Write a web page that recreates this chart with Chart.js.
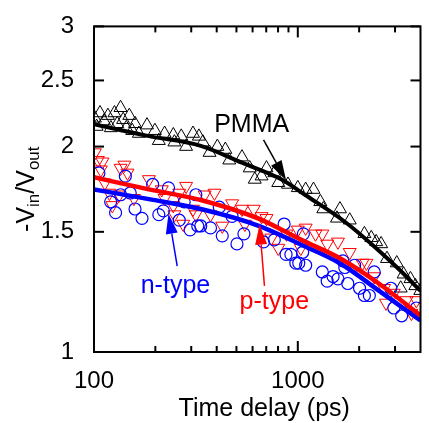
<!DOCTYPE html>
<html><head><meta charset="utf-8">
<script src="https://cdn.jsdelivr.net/npm/chart.js@4/dist/chart.umd.min.js"></script>
<style>html,body{margin:0;padding:0;background:#fff}#wrap{width:429px;height:423px}</style>
</head><body><div id="wrap"><canvas id="c" width="429" height="423"></canvas></div>
<script>
// ---- data (time delay in ps, ratio -Vin/Vout) ----
const pmmaTime  = [101,103,107,112,117,121,126,130,135,139,144,149,154,159,166,182,199,208,222,245,248,268,283,306,327,342,369,403,441,461,532,581,615,664,702,767,802,895,1000,1093,1194,1290,1334,1557,1610,1798,2122,2294,2424,2563,2739,3059,3198,3306,3572,3775,3990];
const pmmaRatio = [2.20,2.14,2.24,2.18,2.22,2.13,2.24,2.16,2.28,2.19,2.13,2.22,2.11,2.16,2.09,2.15,2.11,2.04,2.09,2.08,2.03,2.07,2.00,2.09,2.07,2.03,1.96,2.00,1.98,1.91,1.93,1.86,1.79,1.81,1.86,1.83,1.77,1.76,1.74,1.73,1.73,1.66,1.62,1.57,1.62,1.56,1.49,1.47,1.45,1.44,1.37,1.35,1.24,1.30,1.28,1.25,1.23];

const pTime  = [101,104.5,108,110,113,119,123,133,135,141,146,157,186,215,222,245,248,262,274,283,306,316,349,373,390,426,476,532,550,608,664,702,742,802,880,1000,1034,1093,1221,1319,1394,1574,1798,2076,2170,2371,2650,2709,2959,3417,3612,3817];
const pRatio = [1.96,1.91,1.85,1.90,1.77,1.71,1.64,1.70,1.86,1.88,1.83,1.68,1.79,1.73,1.68,1.64,1.59,1.71,1.54,1.75,1.62,1.59,1.70,1.59,1.71,1.53,1.65,1.62,1.54,1.62,1.58,1.57,1.47,1.42,1.49,1.51,1.42,1.52,1.49,1.49,1.44,1.45,1.40,1.35,1.35,1.29,1.24,1.18,1.22,1.19,1.14,1.19];

const nTime  = [105.7,120.7,127.6,135,142.5,150.6,159,172,194,208,219,232,262,277,296,316,323,334,373,412,426,476,503,544,679,767,857,876,925,978,1011,1057,1065,1093,1319,1394,1490,1574,1664,1701,1759,1900,2009,2122,2244,2371,2861,2959,3233,3817];
const nRatio = [1.83,1.66,1.60,1.70,1.81,1.71,1.62,1.57,1.76,1.59,1.61,1.74,1.56,1.66,1.51,1.70,1.53,1.53,1.52,1.63,1.48,1.58,1.44,1.49,1.45,1.46,1.54,1.39,1.39,1.35,1.35,1.40,1.49,1.34,1.31,1.27,1.29,1.28,1.36,1.33,1.26,1.34,1.24,1.21,1.21,1.31,1.24,1.16,1.13,1.16];

const pmmaFitTime  = [100,186,334,532,829,1093,1701,2371,3128,4000];
const pmmaFitRatio = [2.157,2.072,2.005,1.894,1.791,1.697,1.552,1.428,1.323,1.229];
const pFitTime  = [100,186,334,643,1034,1610,2507,4000];
const pFitRatio = [1.803,1.731,1.670,1.568,1.461,1.372,1.259,1.131];
const nFitTime  = [100,186,334,643,1034,1610,2507,4000];
const nFitRatio = [1.731,1.675,1.620,1.531,1.437,1.349,1.229,1.112];

const xMajorTicks = [100,1000];
const xMinorTicks = [200,300,400,500,600,700,800,900,2000,3000];
const yTicks = [1,1.5,2,2.5,3];

// annotations (data coordinates)
const arrowFrom = [[679,2.045],[256,1.336],[686,1.25]];
const arrowTo   = [[876,1.785],[232,1.594],[649,1.537]];
const arrowColor = ['#000000','#0000ff','#ff0000'];
const labelText = ['PMMA','n-type','p-type'];
const labelAt   = [[594,2.10],[251,1.221],[767,1.158]];
const labelColor = ['#000000','#0000ff','#ff0000'];

const FONT = '"Liberation Sans", Arial, sans-serif';
const pts = (xs, ys) => xs.map((v,i)=>({x:v, y:ys[i]}));

const overlay = {
  id:'overlay',
  afterDraw(chart){
    const {ctx, chartArea:a, scales:{x, y}} = chart;
    ctx.save();
    ctx.strokeStyle = '#000'; ctx.lineWidth = 2;
    const seg = (x1,y1,x2,y2)=>{ctx.beginPath();ctx.moveTo(x1,y1);ctx.lineTo(x2,y2);ctx.stroke();};
    ctx.strokeRect(a.left, a.top, a.right-a.left, a.bottom-a.top);
    xMajorTicks.forEach(v=>{const px=x.getPixelForValue(v); seg(px,a.bottom,px,a.bottom-11); seg(px,a.top,px,a.top+11);});
    xMinorTicks.forEach(v=>{const px=x.getPixelForValue(v); seg(px,a.bottom,px,a.bottom-6); seg(px,a.top,px,a.top+6);});
    yTicks.forEach(v=>{const py=y.getPixelForValue(v); seg(a.left,py,a.left+10,py); seg(a.right,py,a.right-10,py);});
    // arrows
    arrowFrom.forEach((f,i)=>{
      const x1=x.getPixelForValue(f[0]), y1=y.getPixelForValue(f[1]);
      const x2=x.getPixelForValue(arrowTo[i][0]), y2=y.getPixelForValue(arrowTo[i][1]);
      const ang=Math.atan2(y2-y1,x2-x1), L=20, W=6;
      const bx=x2-L*Math.cos(ang), by=y2-L*Math.sin(ang);
      ctx.strokeStyle=arrowColor[i]; ctx.fillStyle=arrowColor[i]; ctx.lineWidth=1.5;
      seg(x1,y1,bx,by);
      ctx.beginPath(); ctx.moveTo(x2,y2);
      ctx.lineTo(bx+W*Math.sin(ang), by-W*Math.cos(ang));
      ctx.lineTo(bx-W*Math.sin(ang), by+W*Math.cos(ang));
      ctx.closePath(); ctx.fill();
    });
    // labels
    ctx.font = '25px ' + FONT; ctx.textAlign='center'; ctx.textBaseline='alphabetic';
    labelText.forEach((t,i)=>{ctx.fillStyle=labelColor[i]; ctx.fillText(t, x.getPixelForValue(labelAt[i][0]), y.getPixelForValue(labelAt[i][1]));});
    // x title
    ctx.fillStyle='#000'; ctx.font='25px '+FONT;
    ctx.fillText('Time delay (ps)', (a.left+a.right)/2 + 7, 416);
    // y title with subscripts
    ctx.translate(27, (a.top+a.bottom)/2); ctx.rotate(-Math.PI/2);
    const parts=[['-V',25,0],['in',17,7],['/V',25,0],['out',17,7]];
    let total=0; parts.forEach(p=>{ctx.font=p[1]+'px '+FONT; total+=ctx.measureText(p[0]).width;});
    let cx=-total/2; ctx.textAlign='left'; ctx.textBaseline='middle';
    parts.forEach(p=>{ctx.font=p[1]+'px '+FONT; ctx.fillText(p[0], cx, p[2]); cx+=ctx.measureText(p[0]).width;});
    ctx.restore();
  }
};

new Chart(document.getElementById('c'), {
  type:'scatter',
  data:{datasets:[
    {label:'PMMA fit', data:pts(pmmaFitTime,pmmaFitRatio), showLine:true, borderColor:'#000', borderWidth:4, pointRadius:0, cubicInterpolationMode:'monotone', order:3},
    {label:'n-type fit', data:pts(nFitTime,nFitRatio), showLine:true, borderColor:'#0000ff', borderWidth:4.5, pointRadius:0, cubicInterpolationMode:'monotone', order:2},
    {label:'p-type fit', data:pts(pFitTime,pFitRatio), showLine:true, borderColor:'#ff0000', borderWidth:4.5, pointRadius:0, cubicInterpolationMode:'monotone', order:1},
    {label:'PMMA', data:pts(pmmaTime,pmmaRatio), pointStyle:'triangle', pointRadius:7.5, borderColor:'#000', backgroundColor:'rgba(0,0,0,0)', borderWidth:1, order:6},
    {label:'p-type', data:pts(pTime,pRatio), pointStyle:'triangle', rotation:180, pointRadius:7.5, borderColor:'#ff0000', backgroundColor:'rgba(0,0,0,0)', borderWidth:1, order:5},
    {label:'n-type', data:pts(nTime,nRatio), pointStyle:'circle', pointRadius:6, borderColor:'#0000ff', backgroundColor:'rgba(0,0,0,0)', borderWidth:1.2, order:4}
  ]},
  options:{
    responsive:false, animation:false, devicePixelRatio:1,
    layout:{padding:{top:22,right:2,left:0,bottom:0}},
    plugins:{legend:{display:false}, tooltip:{enabled:false}},
    scales:{
      x:{type:'logarithmic', min:100, max:4000,
         afterFit:s=>{s.height=71;},
         afterBuildTicks:s=>{s.ticks=xMajorTicks.map(v=>({value:v}));},
         grid:{display:false}, border:{display:false},
         ticks:{color:'#000', font:{size:24, family:FONT}, padding:7, maxRotation:0, autoSkip:false, callback:v=>String(v)}},
      y:{type:'logarithmic', min:1, max:3,
         afterFit:s=>{s.width=94;},
         afterBuildTicks:s=>{s.ticks=yTicks.map(v=>({value:v}));},
         grid:{display:false}, border:{display:false},
         ticks:{color:'#000', font:{size:24, family:FONT}, padding:12, autoSkip:false, callback:v=>String(v)}}
    }
  },
  plugins:[overlay]
});
</script></body></html>
